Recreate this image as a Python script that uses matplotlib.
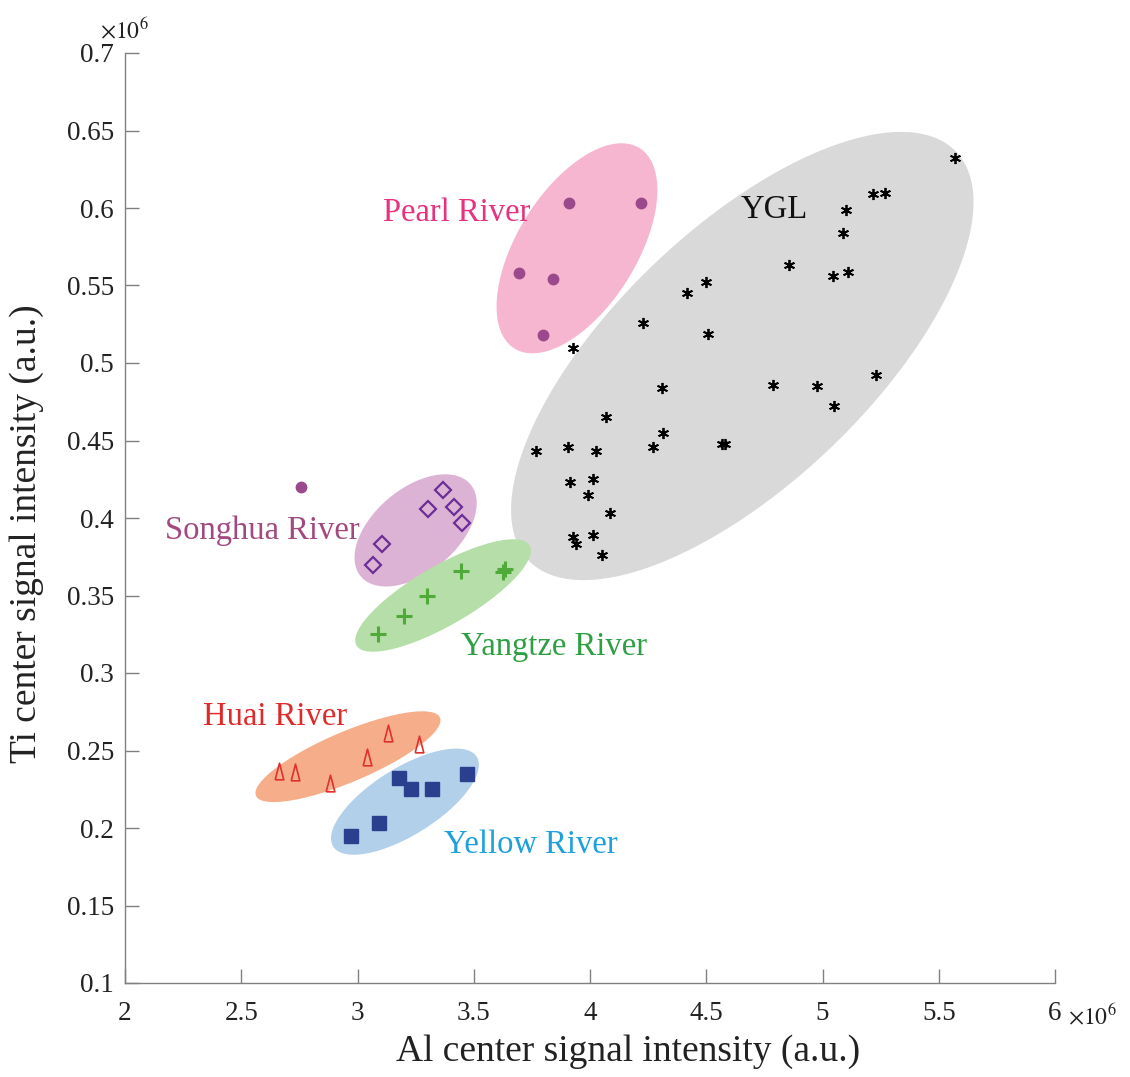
import numpy as np
import matplotlib
matplotlib.use("Agg")
import matplotlib.pyplot as plt

plt.rcParams['font.family'] = ['Liberation Serif', 'DejaVu Serif']
plt.rcParams['mathtext.fontset'] = 'stix'

# ---- data (units of 1e6) ----
ygl_x = [5.570, 5.217, 5.269, 5.101, 5.088, 4.856, 5.045, 5.110, 4.499, 4.417,
         4.228, 4.508, 3.927, 5.230, 4.787, 4.976, 5.049, 4.310, 4.069, 4.314,
         4.271, 4.568, 4.581, 3.768, 3.905, 4.026, 3.914, 4.013, 3.991, 4.086,
         3.927, 3.940, 4.013, 4.052]
ygl_y = [0.632, 0.609, 0.610, 0.599, 0.584, 0.563, 0.556, 0.559, 0.552, 0.545,
         0.526, 0.519, 0.510, 0.492, 0.486, 0.485, 0.472, 0.484, 0.465, 0.455,
         0.446, 0.448, 0.448, 0.443, 0.446, 0.443, 0.423, 0.425, 0.415, 0.403,
         0.388, 0.383, 0.389, 0.376]

pearl_x = [3.910, 4.219, 3.695, 3.841, 3.798, 2.757]
pearl_y = [0.603, 0.603, 0.558, 0.554, 0.518, 0.420]

songhua_x = [3.368, 3.303, 3.415, 3.449, 3.105, 3.067]
songhua_y = [0.418, 0.406, 0.407, 0.397, 0.383, 0.370]

yangtze_x = [3.088, 3.200, 3.299, 3.445, 3.626, 3.634]
yangtze_y = [0.325, 0.337, 0.350, 0.366, 0.365, 0.367]

huai_x = [2.662, 2.731, 2.882, 3.041, 3.131, 3.265]
huai_y = [0.237, 0.236, 0.229, 0.246, 0.261, 0.254]

yellow_x = [2.972, 3.092, 3.178, 3.230, 3.320, 3.471]
yellow_y = [0.195, 0.203, 0.232, 0.225, 0.225, 0.235]

x_ticks = [2, 2.5, 3, 3.5, 4, 4.5, 5, 5.5, 6]
x_ticklabels = ['2', '2.5', '3', '3.5', '4', '4.5', '5', '5.5', '6']
y_ticks = [0.1, 0.15, 0.2, 0.25, 0.3, 0.35, 0.4, 0.45, 0.5, 0.55, 0.6, 0.65, 0.7]
y_ticklabels = ['0.1', '0.15', '0.2', '0.25', '0.3', '0.35', '0.4', '0.45', '0.5',
                '0.55', '0.6', '0.65', '0.7']

# group regions: centre (data), semi-axes (axes fraction), angle (deg, screen)
regions = [
    # cx, cy, a, b, angle, colour
    (4.655, 0.5045, 0.318, 0.137, 43.7, '#d9d9d9'),
    (3.944, 0.574, 0.127, 0.064, 58.0, '#f7b6cf'),
    (3.250, 0.392, 0.077, 0.045, 40.0, '#ddb3d5'),
    (3.368, 0.350, 0.1075, 0.032, 30.0, '#b6dea8'),
    (2.959, 0.246, 0.1075, 0.027, 23.0, '#f6ad8a'),
    (3.204, 0.217, 0.091, 0.036, 32.0, '#b3d0ea'),
]

# label text: left x, centre y (data)
labels = [
    ('Pearl River', 3.110, 0.597, '#e8317f'),
    ('YGL', 4.649, 0.599, '#111111'),
    ('Songhua River', 2.172, 0.392, '#a24a80'),
    ('Yangtze River', 3.445, 0.317, '#2ea043'),
    ('Huai River', 2.335, 0.272, '#e02a2a'),
    ('Yellow River', 3.372, 0.189, '#1ea0dc'),
]

xmin, xmax, ymin, ymax = 2, 6, 0.1, 0.7

fig = plt.figure(figsize=(11.30, 10.77), dpi=100)
ax = fig.add_axes([125/1130, 1-983/1077, 930/1130, 930/1077])
ax.set_xlim(xmin, xmax)
ax.set_ylim(ymin, ymax)

t = np.linspace(0, 2*np.pi, 300)
for cx, cy, a, b, ang, col in regions:
    th = np.deg2rad(ang)
    ex = a*np.cos(t)*np.cos(th) - b*np.sin(t)*np.sin(th)
    ey = a*np.cos(t)*np.sin(th) + b*np.sin(t)*np.cos(th)
    ax.fill(cx + ex*(xmax-xmin), cy + ey*(ymax-ymin), color=col, lw=0, zorder=1)

ax.plot(ygl_x, ygl_y, ls='none', marker=(6, 2, 0), ms=8, mew=1.3, color='black', zorder=3)
ax.plot(pearl_x, pearl_y, ls='none', marker='o', ms=7.5, color='#9a4a8c', mec='#9a4a8c', zorder=3)
ax.plot(songhua_x, songhua_y, ls='none', marker='D', ms=8.5, mfc='none', mec='#6a2e96', mew=1.6, zorder=3)
ax.plot(yangtze_x, yangtze_y, ls='none', marker='+', ms=12, mew=2.2, color='#4faa3a', zorder=3)
tri = [(-0.26, -0.5), (0.26, -0.5), (0.0, 0.5), (-0.26, -0.5)]
ax.plot(huai_x, huai_y, ls='none', marker=tri, ms=12, mfc='none', mec='#e03030', mew=1.2, zorder=3)
ax.plot(yellow_x, yellow_y, ls='none', marker='s', ms=10, color='#2b3f8f', zorder=3)

for txt, x, y, col in labels:
    ax.text(x, y, txt, color=col, fontsize=23.5, ha='left', va='center', zorder=4)

ax.set_xticks(x_ticks)
ax.set_xticklabels(x_ticklabels)
ax.set_yticks(y_ticks)
ax.set_yticklabels(y_ticklabels)
for s in ['top', 'right']:
    ax.spines[s].set_visible(False)
for s in ['left', 'bottom']:
    ax.spines[s].set_color('#808080')
    ax.spines[s].set_linewidth(1.0)
ax.tick_params(direction='in', length=10, width=1.0, color='#808080',
               labelsize=19.5, labelcolor='#222222')
ax.tick_params(axis='x', pad=13)
ax.tick_params(axis='y', pad=8)

ax.set_xlabel('Al center signal intensity (a.u.)', fontsize=27, color='#222222')
ax.set_ylabel('Ti center signal intensity (a.u.)', fontsize=27, color='#222222')
ax.xaxis.set_label_coords(0.541, -0.055)
ax.yaxis.set_label_coords(-0.087, 0.483)

ax.text(-0.027, 1.010, r'$\times 10^{6}$', transform=ax.transAxes, ha='left', va='bottom',
        fontsize=17, color='#222222')
ax.text(1.014, -0.022, r'$\times 10^{6}$', transform=ax.transAxes, ha='left', va='top',
        fontsize=17, color='#222222')

fig.savefig('out.png', dpi=100)
